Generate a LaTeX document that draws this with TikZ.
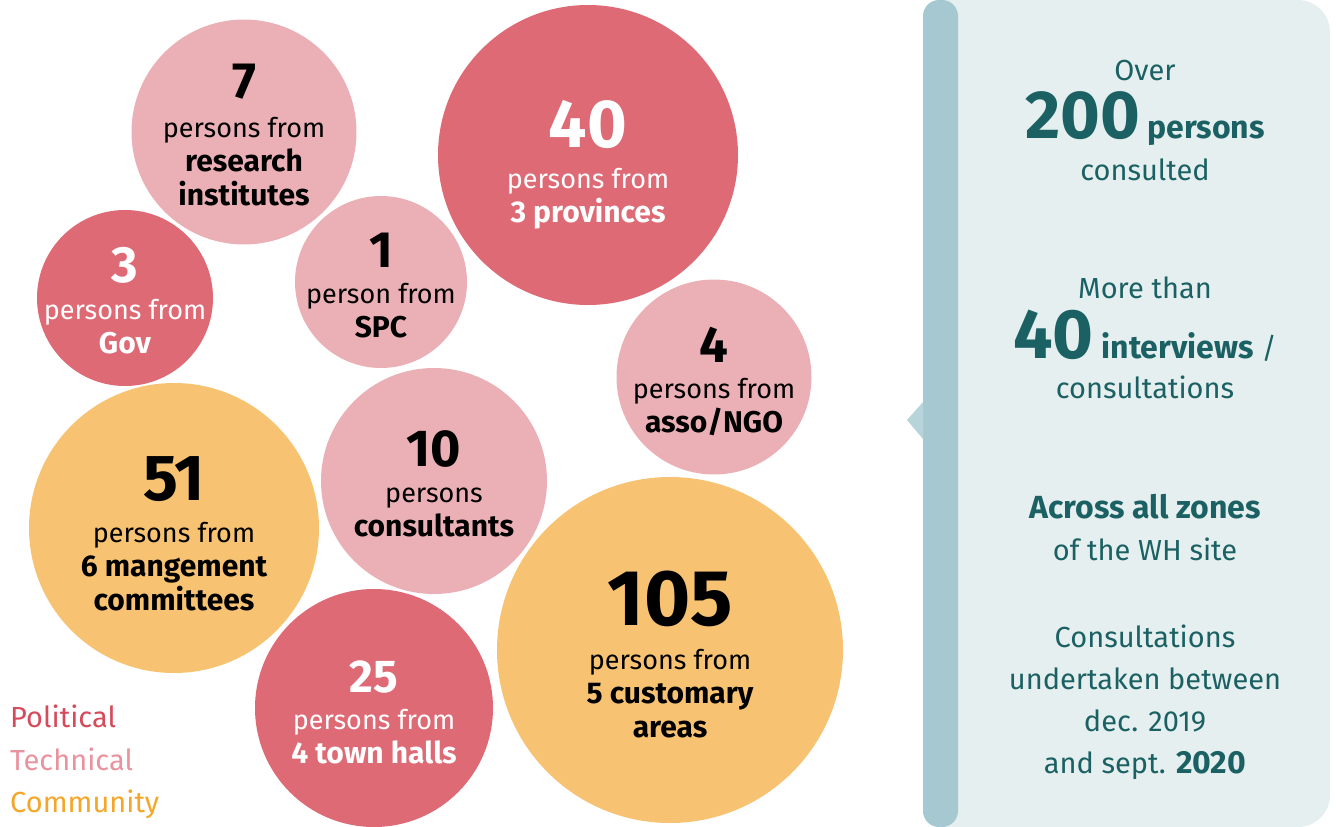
\documentclass[tikz,border=0pt]{standalone}
\usepackage{fontspec}
\setmainfont{Fira Sans}
\newcommand\capb[1]{{\bfseries\fontsize{30}{34}\selectfont #1}}
\newcommand\panb[1]{{\bfseries\fontsize{32}{42}\selectfont #1}}
\begin{document}
\begin{tikzpicture}[x=1pt,y=-1pt,
  bubble/.style={circle,inner sep=0pt,minimum size=#1pt},
  num/.style={anchor=base,inner sep=0pt,font=\bfseries\fontsize{#1}{#1}\selectfont},
  caption/.style={anchor=base,inner sep=0pt,align=center,font=\fontsize{27}{34}\selectfont},
  paneltext/.style={anchor=base,inner sep=0pt,align=center,text=panelink,font=\fontsize{29}{42}\selectfont},
  legend/.style={anchor=base west,inner sep=0pt,font=\fontsize{29}{29}\selectfont}]
 \definecolor{politic}{HTML}{DD6A75}
 \definecolor{technic}{HTML}{EBB0B5}
 \definecolor{commun}{HTML}{F7C372}
 \definecolor{politicink}{HTML}{D64B5B}
 \definecolor{technicink}{HTML}{E8939E}
 \definecolor{communink}{HTML}{F4A62A}
 \definecolor{panelbg}{HTML}{E6EFEF}
 \definecolor{panelstrip}{HTML}{A6C9D1}
 \definecolor{paneltip}{HTML}{B7D4DB}
 \definecolor{panelink}{HTML}{1B6163}
 \useasboundingbox (0,0) rectangle (1336,827);
 % bubbles
 \node [bubble=225,fill=technic] (c7) at (244,132) {};
 \node [bubble=300,fill=politic] (c40) at (588,155) {};
 \node [bubble=176,fill=politic] (c3) at (125,298) {};
 \node [bubble=172,fill=technic] (c1) at (381,282) {};
 \node [bubble=195,fill=technic] (c4) at (714,377) {};
 \node [bubble=290,fill=commun] (c51) at (174,528) {};
 \node [bubble=226,fill=technic] (c10) at (434,481) {};
 \node [bubble=346,fill=commun] (c105) at (670,650) {};
 \node [bubble=238,fill=politic] (c25) at (374,708) {};
 % numbers and captions (caption base = last line)
 \node [num=51] (n7) at (244,98) {7};
 \node [caption] (t7) at (244,205) {persons from\\\capb{research}\\\capb{institutes}};
 \node [num=68,text=white] (n40) at (588,147) {40};
 \node [caption,text=white] (t40) at (588,222) {persons from\\\capb{3 provinces}};
 \node [num=51,text=white] (n3) at (125,282) {3};
 \node [caption,text=white] (t3) at (125,353) {persons from\\\capb{Gov}};
 \node [num=51] (n1) at (381,267) {1};
 \node [caption] (t1) at (381,337) {person from\\\capb{SPC}};
 \node [num=51] (n4) at (714,362) {4};
 \node [caption] (t4) at (714,432) {persons from\\\capb{asso/NGO}};
 \node [num=65] (n51) at (174,500) {51};
 \node [caption] (t51) at (174,610) {persons from\\\capb{6 mangement}\\\capb{committees}};
 \node [num=52] (n10) at (434,466) {10};
 \node [caption] (t10) at (434,536) {persons\\\capb{consultants}};
 \node [num=79] (n105) at (670,625) {105};
 \node [caption] (t105) at (670,737) {persons from\\\capb{5 customary}\\\capb{areas}};
 \node [num=46,text=white] (n25) at (374,692) {25};
 \node [caption,text=white] (t25) at (374,763) {persons from\\\capb{4 town halls}};
 % legend
 \node [legend,text=politicink] (lpol) at (10,727) {Political};
 \node [legend,text=technicink] (ltec) at (10,770) {Technical};
 \node [legend,text=communink] (lcom) at (10,812) {Community};
 % side panel
 \fill [panelbg] (940,0) -- (1298,0) arc[start angle=90,end angle=0,radius=32pt]
   -- (1330,795) arc[start angle=0,end angle=-90,radius=32pt] -- (940,827) -- cycle;
 \fill [panelstrip,rounded corners=16pt] (923,0) rectangle (958,827);
 \fill [paneltip] (907,420) -- (923,402) -- (923,439) -- cycle;
 \node [paneltext] (p1) at (1145,80) {Over};
 \node [paneltext] (p2) at (1145,138) {{\bfseries\fontsize{68}{68}\selectfont 200} \panb{persons}};
 \node [paneltext] (p3) at (1145,180) {consulted};
 \node [paneltext] (p4) at (1145,298) {More than};
 \node [paneltext] (p5) at (1145,358) {{\bfseries\fontsize{70}{70}\selectfont 40} \panb{interviews} /};
 \node [paneltext] (p6) at (1145,398) {consultations};
 \node [paneltext] (p7) at (1145,560) {\panb{Across all zones}\\of the WH site};
 \node [paneltext] (p8) at (1145,773) {Consultations\\undertaken between\\dec. 2019\\and sept. \panb{2020}};
\end{tikzpicture}
\end{document}
